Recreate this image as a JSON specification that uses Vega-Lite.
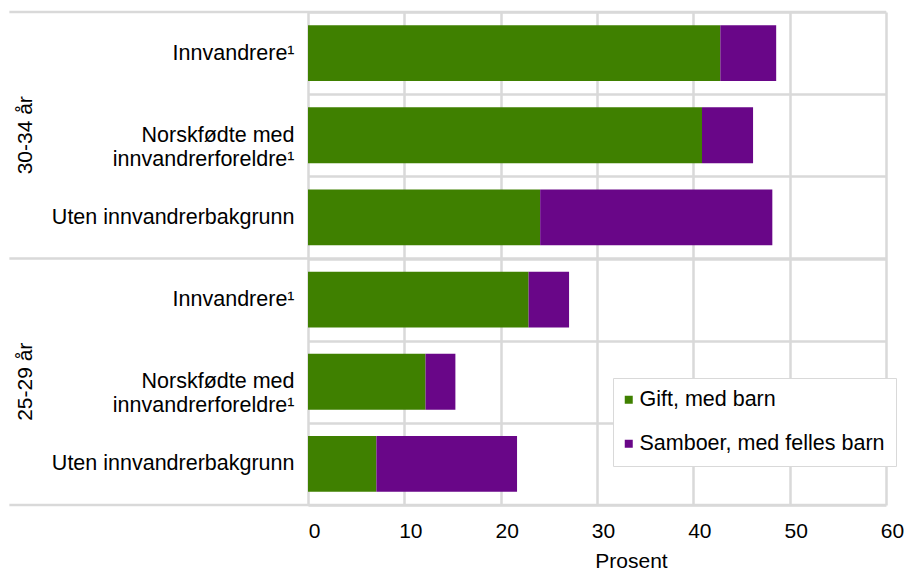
{
  "$schema": "https://vega.github.io/schema/vega-lite/v6.json",
  "width": 578,
  "height": 493,
  "autosize": {"type": "none"},
  "padding": {"left": 308, "top": 12, "right": 19, "bottom": 67},
  "background": "white",
  "config": {"view": {"stroke": null}, "font": "Liberation Sans"},
  "data": {
    "values": [
      {"group": "30-34 år", "key": "30-34 år|Innvandrere¹", "type": "Gift, med barn", "value": 42.8},
      {"group": "30-34 år", "key": "30-34 år|Innvandrere¹", "type": "Samboer, med felles barn", "value": 5.8},
      {"group": "30-34 år", "key": "30-34 år|Norskfødte med/innvandrerforeldre¹", "type": "Gift, med barn", "value": 40.9},
      {"group": "30-34 år", "key": "30-34 år|Norskfødte med/innvandrerforeldre¹", "type": "Samboer, med felles barn", "value": 5.3},
      {"group": "30-34 år", "key": "30-34 år|Uten innvandrerbakgrunn", "type": "Gift, med barn", "value": 24.1},
      {"group": "30-34 år", "key": "30-34 år|Uten innvandrerbakgrunn", "type": "Samboer, med felles barn", "value": 24.1},
      {"group": "25-29 år", "key": "25-29 år|Innvandrere¹", "type": "Gift, med barn", "value": 22.9},
      {"group": "25-29 år", "key": "25-29 år|Innvandrere¹", "type": "Samboer, med felles barn", "value": 4.2},
      {"group": "25-29 år", "key": "25-29 år|Norskfødte med/innvandrerforeldre¹", "type": "Gift, med barn", "value": 12.2},
      {"group": "25-29 år", "key": "25-29 år|Norskfødte med/innvandrerforeldre¹", "type": "Samboer, med felles barn", "value": 3.1},
      {"group": "25-29 år", "key": "25-29 år|Uten innvandrerbakgrunn", "type": "Gift, med barn", "value": 7.1},
      {"group": "25-29 år", "key": "25-29 år|Uten innvandrerbakgrunn", "type": "Samboer, med felles barn", "value": 14.6}
    ]
  },
  "layer": [
    {
      "mark": {"type": "bar", "height": {"band": 0.68}},
      "encoding": {
        "y": {
          "field": "key",
          "type": "nominal",
          "scale": {
            "domain": [
              "30-34 år|Innvandrere¹",
              "30-34 år|Norskfødte med/innvandrerforeldre¹",
              "30-34 år|Uten innvandrerbakgrunn",
              "25-29 år|Innvandrere¹",
              "25-29 år|Norskfødte med/innvandrerforeldre¹",
              "25-29 år|Uten innvandrerbakgrunn"
            ],
            "paddingInner": 0,
            "paddingOuter": 0
          },
          "axis": {
            "title": null,
            "domain": false,
            "ticks": false,
            "tickSize": 0,
            "grid": true,
            "tickBand": "extent",
            "gridColor": "#d9d9d9",
            "gridWidth": 2.5,
            "labelExpr": "isString(datum.value) && indexof(datum.value, '|') >= 0 ? split(split(datum.value, '|')[1], '/') : ''",
            "labelFontSize": 21.5,
            "labelColor": "black",
            "labelPadding": 14,
            "labelLimit": 500,
            "labelLineHeight": 24
          }
        },
        "x": {
          "field": "value",
          "type": "quantitative",
          "stack": "zero",
          "scale": {"domain": [0, 60], "nice": false},
          "axis": {
            "title": "Prosent",
            "values": [0, 10, 20, 30, 40, 50, 60],
            "grid": true,
            "gridColor": "#d9d9d9",
            "gridWidth": 2.5,
            "domain": false,
            "ticks": false,
            "tickSize": 0,
            "labelFontSize": 21,
            "labelColor": "black",
            "labelPadding": 15,
            "labelOffset": 6,
            "labelFlush": false,
            "titleFontSize": 21,
            "titleFontWeight": "normal",
            "titleColor": "black",
            "titleX": 323,
            "titleY": 62,
            "titleBaseline": "alphabetic"
          }
        },
        "color": {
          "field": "type",
          "type": "nominal",
          "scale": {
            "domain": ["Gift, med barn", "Samboer, med felles barn"],
            "range": ["#3f8000", "#690688"]
          },
          "legend": {
            "title": null,
            "orient": "none",
            "legendX": 305,
            "legendY": 366,
            "direction": "vertical",
            "symbolType": "square",
            "symbolSize": 64,
            "symbolStrokeWidth": 0,
            "symbolOffset": -6,
            "labelFontSize": 21.5,
            "labelColor": "black",
            "labelLimit": 500,
            "labelOffset": 0,
            "rowPadding": 21,
            "padding": 11,
            "strokeColor": "#d9d9d9",
            "fillColor": "white"
          }
        }
      }
    },
    {
      "transform": [{"filter": "datum.type == 'Gift, med barn' && indexof(datum.key, 'Innvandrere') >= 0"}],
      "mark": {"type": "rule", "color": "#d9d9d9", "strokeWidth": 2.5},
      "encoding": {
        "y": {"field": "key", "type": "nominal", "bandPosition": 0},
        "x": {"datum": -31, "type": "quantitative", "scale": {"domain": [0, 60], "nice": false}},
        "x2": {"datum": 60}
      }
    },
    {
      "transform": [{"filter": "datum.type == 'Gift, med barn' && datum.key == '25-29 år|Uten innvandrerbakgrunn'"}],
      "mark": {"type": "rule", "color": "#d9d9d9", "strokeWidth": 2.5},
      "encoding": {
        "y": {"field": "key", "type": "nominal", "bandPosition": 1},
        "x": {"datum": -31, "type": "quantitative", "scale": {"domain": [0, 60], "nice": false}},
        "x2": {"datum": 60}
      }
    },
    {
      "transform": [{"filter": "datum.type == 'Gift, med barn' && indexof(datum.key, 'Norskfødte') >= 0"}],
      "mark": {"type": "text", "angle": 270, "align": "center", "baseline": "middle", "fontSize": 21, "color": "black"},
      "encoding": {
        "y": {"field": "key", "type": "nominal"},
        "x": {"datum": -29.3, "type": "quantitative", "scale": {"domain": [0, 60], "nice": false}},
        "text": {"field": "group"}
      }
    }
  ]
}
